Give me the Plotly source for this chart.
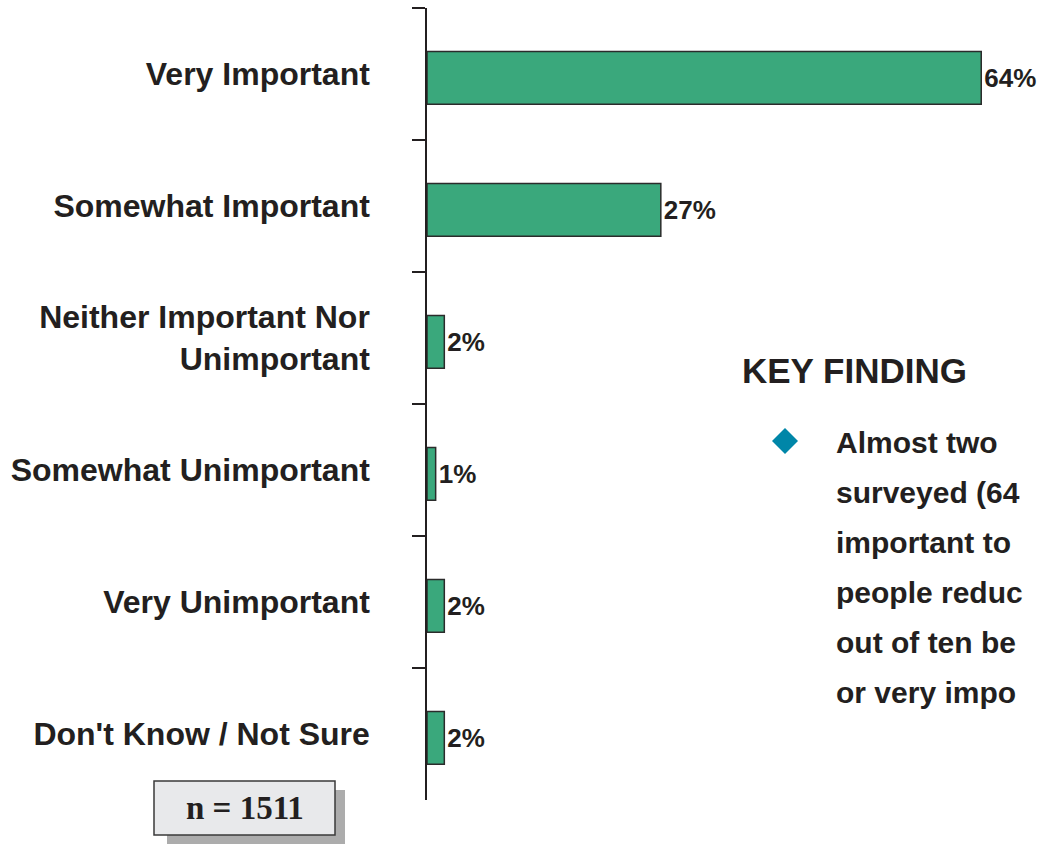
import plotly.graph_objects as go

categories = ["Very Important", "Somewhat Important", "Neither Important Nor<br>Unimportant",
              "Somewhat Unimportant", "Very Unimportant", "Don't Know / Not Sure"]
values = [64, 27, 2, 1, 2, 2]
value_labels = ["64%", "27%", "2%", "1%", "2%", "2%"]
finding_title = "KEY FINDING"
finding_lines = ["Almost two", "surveyed (64", "important to", "people reduc",
                 "out of ten be", "or very impo"]
sample_label = "n = 1511"

W, H = 1040, 844
L, R, T, B = 427, 0, 8, 44
PW, PH = W - L - R, H - T - B

def px(x):  # screen x -> paper
    return (x - L) / PW

def py(y):  # screen y -> paper
    return (H - B - y) / PH

SANS = "Liberation Sans, Arial, Helvetica, sans-serif"
DARK = "#231f20"

fig = go.Figure()
fig.add_trace(go.Bar(
    y=categories, x=values, orientation="h",
    marker=dict(color="#3aa87c", line=dict(color="#2b2b2b", width=1.5)),
    width=0.4, offset=-0.17,
    text=value_labels, textposition="outside", cliponaxis=False,
    textfont=dict(family=SANS, size=26, color=DARK, weight="bold"),
    hoverinfo="skip",
))

fig.update_layout(
    width=W, height=H,
    margin=dict(l=L, r=R, t=T, b=B, pad=0, autoexpand=False),
    paper_bgcolor="white", plot_bgcolor="white",
    showlegend=False, bargap=0.6,
    xaxis=dict(range=[0, PW / 8.66], visible=False, fixedrange=True, automargin=False),
    yaxis=dict(
        categoryorder="array", categoryarray=categories, autorange="reversed",
        showline=True, linecolor=DARK, linewidth=1.5,
        ticks="outside", ticklen=13, tickcolor=DARK, tickwidth=1.5,
        tickson="boundaries", showgrid=False, zeroline=False, automargin=False,
        tickfont=dict(family=SANS, size=32, color=DARK, weight="bold"),
        ticklabelstandoff=49, fixedrange=True,
    ),
    font=dict(family=SANS, color=DARK),
)

# Key finding
fig.add_annotation(x=px(740), y=py(370), xref="paper", yref="paper", text=finding_title,
                   showarrow=False, xanchor="left", yanchor="middle",
                   font=dict(family=SANS, size=35, color=DARK, weight="bold"))
fig.add_shape(type="path", xref="paper", yref="paper",
              path=f"M {px(785)} {py(428)} L {px(798)} {py(441)} L {px(785)} {py(454)} L {px(772)} {py(441)} Z",
              fillcolor="#0086a8", line=dict(width=0))
for i, line in enumerate(finding_lines):
    fig.add_annotation(x=px(834), y=py(442 + 50 * i), xref="paper", yref="paper", text=line,
                       showarrow=False, xanchor="left", yanchor="middle",
                       font=dict(family=SANS, size=30, color=DARK, weight="bold"))

# sample size box with shadow
fig.add_shape(type="rect", xref="paper", yref="paper",
              x0=px(167), x1=px(345), y0=py(790), y1=py(846),
              fillcolor="#acacac", line=dict(width=0), layer="above")
fig.add_shape(type="rect", xref="paper", yref="paper",
              x0=px(154), x1=px(335), y0=py(781), y1=py(835),
              fillcolor="#e8e9eb", line=dict(color="#3a3a3a", width=1.5), layer="above")
fig.add_annotation(x=px(244.5), y=py(808), xref="paper", yref="paper", text=sample_label,
                   showarrow=False, xanchor="center", yanchor="middle",
                   font=dict(family="Liberation Serif, Times New Roman, serif", size=33,
                             color=DARK, weight="bold"))

fig.write_html("out.html", config={"displayModeBar": False},
               post_script="document.body.style.margin='0';document.body.style.overflow='hidden';")
